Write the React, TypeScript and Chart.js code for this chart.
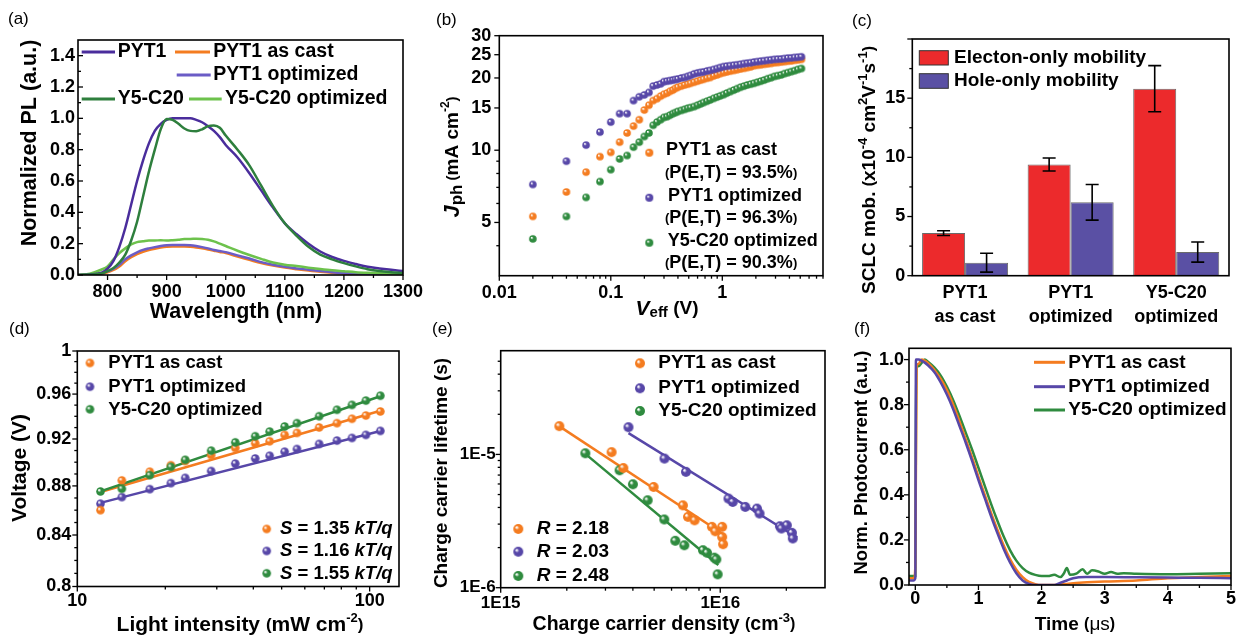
import React, { useEffect, useRef } from 'react';
import { Chart, registerables } from 'chart.js';

Chart.register(...registerables);

const FONT = '"Liberation Sans", Arial, Helvetica, sans-serif';

const ORANGE = '#F47C20';
const PURPLE = '#5747A8';
const GREEN = '#2F8B3F';
const A_PYT1_COLOR = '#4A2D9C';
const A_PYT1_OPT_COLOR = '#6B5CC6';
const A_Y5_COLOR = '#2E7F3D';
const A_Y5_OPT_COLOR = '#6DC24C';
const RED = '#EC2A2C';
const BLUE = '#5A50A4';

// ---------------- (a) PL spectra ----------------
const A_WAVELENGTH = [750, 770, 790, 800, 810, 820, 830, 840, 850, 860, 870, 880, 890, 900, 910, 920, 930, 940, 950, 960, 970, 980, 990, 1000, 1020, 1040, 1060, 1080, 1100, 1120, 1140, 1160, 1180, 1200, 1220, 1240, 1260, 1280, 1300];
const A_PYT1 = [0.0, 0.003, 0.015, 0.04, 0.09, 0.18, 0.3, 0.45, 0.6, 0.73, 0.84, 0.92, 0.965, 0.99, 1.0, 1.0, 1.0, 1.0, 0.99, 0.975, 0.95, 0.92, 0.88, 0.83, 0.75, 0.65, 0.54, 0.43, 0.33, 0.26, 0.2, 0.15, 0.115, 0.09, 0.07, 0.052, 0.042, 0.033, 0.025];
const A_PYT1_AS_CAST = [0.0, 0.002, 0.01, 0.018, 0.032, 0.055, 0.088, 0.113, 0.133, 0.148, 0.16, 0.168, 0.175, 0.18, 0.182, 0.182, 0.182, 0.18, 0.176, 0.17, 0.163, 0.155, 0.147, 0.14, 0.118, 0.097, 0.076, 0.06, 0.047, 0.037, 0.028, 0.02, 0.014, 0.01, 0.007, 0.005, 0.003, 0.002, 0.002];
const A_PYT1_OPT = [0.0, 0.003, 0.012, 0.023, 0.04, 0.065, 0.1, 0.125, 0.145, 0.16, 0.17, 0.178, 0.185, 0.19, 0.192, 0.192, 0.192, 0.19, 0.185, 0.178, 0.17, 0.16, 0.153, 0.146, 0.125, 0.105, 0.082, 0.065, 0.052, 0.042, 0.034, 0.025, 0.018, 0.013, 0.01, 0.008, 0.006, 0.005, 0.004];
const A_Y5 = [0.0, 0.003, 0.01, 0.025, 0.045, 0.08, 0.13, 0.22, 0.34, 0.5, 0.66, 0.8, 0.93, 0.995, 0.99, 0.965, 0.935, 0.92, 0.918, 0.93, 0.95, 0.955, 0.94, 0.89, 0.8, 0.7, 0.57, 0.44, 0.33, 0.25, 0.18, 0.13, 0.1, 0.076, 0.055, 0.037, 0.025, 0.018, 0.013];
const A_Y5_OPT = [0.0, 0.008, 0.035, 0.055, 0.1, 0.14, 0.17, 0.195, 0.21, 0.215, 0.22, 0.22, 0.222, 0.22, 0.222, 0.225, 0.23, 0.23, 0.232, 0.23, 0.225, 0.215, 0.2, 0.185, 0.155, 0.128, 0.103, 0.08, 0.066, 0.057, 0.047, 0.038, 0.03, 0.024, 0.018, 0.014, 0.011, 0.009, 0.008];
const A_X_TICKS = [800, 900, 1000, 1100, 1200, 1300];
const A_X_LABELS = ['800', '900', '1000', '1100', '1200', '1300'];
const A_Y_TICKS = [0, 0.2, 0.4, 0.6, 0.8, 1.0, 1.2, 1.4];
const A_Y_LABELS = ['0.0', '0.2', '0.4', '0.6', '0.8', '1.0', '1.2', '1.4'];

// ---------------- (b) Jph vs Veff ----------------
const B_VEFF = [0.02, 0.04, 0.06, 0.08, 0.10, 0.12, 0.14, 0.16, 0.18, 0.20, 0.22, 0.24, 0.26, 0.28, 0.30,
  0.32, 0.34, 0.36, 0.38, 0.40, 0.43, 0.46, 0.49, 0.52, 0.56, 0.60, 0.64, 0.68, 0.73, 0.78, 0.84, 0.90, 0.96, 1.03, 1.10,
  1.18, 1.27, 1.36, 1.46, 1.57, 1.68, 1.80, 1.93, 2.07, 2.22, 2.38, 2.55, 2.74, 2.94, 3.15, 3.38, 3.62, 3.88, 4.16, 4.46, 4.78, 5.12];
const B_PYT1_AS_CAST = [5.3, 6.7, 8.1, 9.4, 9.8, 10.8, 11.8, 12.6, 13.4, 14.7, 15.4, 16.1, 16.4, 16.8, 17.1,
  17.3, 17.6, 17.8, 18.1, 18.3, 18.5, 18.7, 18.85, 19.0, 19.2, 19.4, 19.6, 19.75, 19.95, 20.1, 20.4, 20.6, 20.85, 21.05, 21.2,
  21.35, 21.5, 21.65, 21.8, 21.95, 22.1, 22.25, 22.5, 22.6, 22.7, 22.8, 22.9, 23.0, 23.15, 23.2, 23.3, 23.4, 23.5, 23.55, 23.7, 23.8, 23.9];
const B_PYT1_OPT = [7.2, 9.0, 10.5, 11.9, 13.1, 14.2, 14.2, 16.1, 16.7, 17.0, 17.4, 18.5, 18.7, 18.9, 19.3,
  19.4, 19.5, 19.6, 19.7, 19.8, 20.0, 20.1, 20.3, 20.5, 20.8, 21.0, 21.1, 21.2, 21.4, 21.5, 21.7, 21.9, 22.1, 22.3, 22.4,
  22.5, 22.6, 22.7, 22.8, 22.95, 23.05, 23.15, 23.3, 23.4, 23.5, 23.6, 23.7, 23.8, 23.9, 23.95, 24.0, 24.1, 24.2, 24.25, 24.35, 24.4, 24.5];
const B_Y5_OPT = [4.27, 5.3, 6.36, 7.4, 8.3, 9.2, 9.5, 10.3, 10.8, 11.4, 11.8, 12.7, 13.1, 13.4, 13.7,
  13.8, 14.0, 14.2, 14.35, 14.5, 14.65, 14.8, 14.95, 15.05, 15.2, 15.4, 15.6, 15.8, 16.0, 16.2, 16.45, 16.65, 16.85, 17.05, 17.3,
  17.55, 17.8, 18.05, 18.3, 18.5, 18.7, 18.85, 19.0, 19.2, 19.4, 19.6, 19.85, 20.05, 20.3, 20.45, 20.6, 20.85, 21.05, 21.25, 21.45, 21.7, 21.9];
const B_X_TICKS = [0.01, 0.1, 1];
const B_X_LABELS = ['0.01', '0.1', '1'];
const B_Y_TICKS = [5, 10, 15, 20, 25, 30];
const B_Y_LABELS = ['5', '10', '15', '20', '25', '30'];

// ---------------- (c) SCLC mobility ----------------
const C_CATEGORIES = [['PYT1', 'as cast'], ['PYT1', 'optimized'], ['Y5-C20', 'optimized']];
const C_ELECTRON = [3.6, 9.4, 15.8];
const C_ELECTRON_ERR = [0.2, 0.55, 1.95];
const C_HOLE = [1.1, 6.2, 2.0];
const C_HOLE_ERR = [0.8, 1.5, 0.85];
const C_Y_TICKS = [0, 5, 10, 15];
const C_Y_LABELS = ['0', '5', '10', '15'];

// ---------------- (d) Voc vs light intensity ----------------
const D_INTENSITY = [12, 14.2, 17.7, 20.9, 23.4, 28.7, 34.7, 40.6, 45.5, 51.2, 56.4, 67.2, 77.3, 87, 97.1, 108.8];
const D_PYT1_AS_CAST = [0.860, 0.8846, 0.8919, 0.8974, 0.901, 0.9061, 0.9122, 0.9162, 0.918, 0.9236, 0.9253, 0.9301, 0.9339, 0.9378, 0.9407, 0.9443];
const D_PYT1_OPT = [0.8653, 0.8707, 0.8773, 0.8823, 0.8867, 0.8925, 0.8988, 0.9032, 0.9055, 0.909, 0.9113, 0.9157, 0.9186, 0.9209, 0.9236, 0.9271];
const D_Y5_OPT = [0.8754, 0.8776, 0.889, 0.896, 0.902, 0.9099, 0.9171, 0.9224, 0.9265, 0.931, 0.9339, 0.9401, 0.9458, 0.9502, 0.9541, 0.9585];
const D_FIT_INTENSITY = [12, 108.8];
const D_FIT_AS_CAST = [0.875, 0.945];
const D_FIT_PYT1_OPT = [0.866, 0.927];
const D_FIT_Y5_OPT = [0.8755, 0.958];
const D_X_TICKS = [10, 100];
const D_X_LABELS = ['10', '100'];
const D_Y_TICKS = [0.8, 0.84, 0.88, 0.92, 0.96, 1.0];
const D_Y_LABELS = ['0.8', '0.84', '0.88', '0.92', '0.96', '1'];

// ---------------- (e) lifetime vs density ----------------
const E_AS_CAST_N = [1.85e15, 3.2e15, 3.62e15, 4.97e15, 6.76e15, 7.13e15, 7.64e15, 9.16e15, 9.5e15, 1.02e16, 1.02e16, 1.03e16];
const E_AS_CAST_TAU = [1.63e-5, 1.04e-5, 7.9e-6, 5.7e-6, 4.15e-6, 3.4e-6, 3.2e-6, 2.86e-6, 2.65e-6, 2.86e-6, 2.4e-6, 2.12e-6];
const E_PYT1_OPT_N = [3.82e15, 5.57e15, 6.98e15, 1.09e16, 1.14e16, 1.3e16, 1.47e16, 1.51e16, 1.87e16, 1.9e16, 2.01e16, 2.12e16, 2.14e16];
const E_PYT1_OPT_TAU = [1.6e-5, 9.3e-6, 7.4e-6, 4.66e-6, 4.4e-6, 4.04e-6, 3.92e-6, 3.6e-6, 2.89e-6, 2.78e-6, 2.94e-6, 2.58e-6, 2.34e-6];
const E_Y5_OPT_N = [2.43e15, 3.48e15, 4.0e15, 4.67e15, 5.56e15, 6.24e15, 6.86e15, 8.34e15, 8.7e15, 9.4e15, 9.6e15, 9.73e15];
const E_Y5_OPT_TAU = [1.02e-5, 7.6e-6, 5.97e-6, 4.53e-6, 3.25e-6, 2.25e-6, 2.08e-6, 1.91e-6, 1.83e-6, 1.68e-6, 1.63e-6, 1.26e-6];
const E_FIT_AS_CAST_N = [1.845e15, 1.02e16];
const E_FIT_AS_CAST_TAU = [1.63e-5, 2.55e-6];
const E_FIT_PYT1_OPT_N = [3.82e15, 2.24e16];
const E_FIT_PYT1_OPT_TAU = [1.445e-5, 2.38e-6];
const E_FIT_Y5_OPT_N = [2.43e15, 9.8e15];
const E_FIT_Y5_OPT_TAU = [1.01e-5, 1.48e-6];
const E_X_TICKS = [1e15, 1e16];
const E_X_LABELS = ['1E15', '1E16'];
const E_Y_TICKS = [1e-6, 1e-5];
const E_Y_LABELS = ['1E-6', '1E-5'];

// ---------------- (f) TPC ----------------
const F_AS_CAST_T = [-0.1, -0.02, 0.0, 0.02, 0.05, 0.1, 0.2, 0.3, 0.4, 0.5, 0.6, 0.7, 0.8, 0.9, 1.0, 1.1, 1.2, 1.3, 1.4, 1.5, 1.6, 1.7, 1.8, 1.9, 2.0, 2.1, 2.2, 2.4, 2.6, 3.0, 3.5, 4.0, 4.5, 5.0];
const F_AS_CAST_I = [0.03, 0.03, 0.08, 0.97, 0.98, 1.0, 0.985, 0.955, 0.915, 0.865, 0.8, 0.725, 0.645, 0.565, 0.48, 0.4, 0.32, 0.245, 0.175, 0.115, 0.068, 0.035, 0.014, 0.004, 0.0, 0.0, 0.0, 0.005, 0.01, 0.015, 0.02, 0.03, 0.035, 0.04];
const F_PYT1_OPT_T = [-0.1, -0.03, 0.0, 0.01, 0.05, 0.1, 0.2, 0.3, 0.4, 0.5, 0.6, 0.7, 0.8, 0.9, 1.0, 1.1, 1.2, 1.3, 1.4, 1.5, 1.6, 1.7, 1.8, 1.9, 2.0, 2.1, 2.2, 2.3, 2.4, 2.5, 2.7, 3.0, 3.5, 4.0, 4.5, 5.0];
const F_PYT1_OPT_I = [0.02, 0.02, 0.03, 1.0, 1.0, 0.995, 0.975, 0.945, 0.9, 0.845, 0.78, 0.705, 0.63, 0.55, 0.465, 0.385, 0.305, 0.23, 0.16, 0.1, 0.052, 0.02, 0.005, 0.0, 0.0, 0.0, 0.0, 0.01, 0.02, 0.03, 0.035, 0.035, 0.034, 0.033, 0.032, 0.03];
const F_Y5_OPT_T = [-0.1, -0.02, 0.0, 0.01, 0.02, 0.05, 0.1, 0.15, 0.2, 0.3, 0.4, 0.5, 0.6, 0.7, 0.8, 0.9, 1.0, 1.1, 1.2, 1.3, 1.4, 1.5, 1.6, 1.7, 1.8, 1.9, 2.0, 2.1, 2.2, 2.3, 2.35, 2.4, 2.45, 2.55, 2.65, 2.72, 2.8, 2.9, 3.0, 3.1, 3.2, 3.3, 3.5, 4.0, 4.5, 5.0];
const F_Y5_OPT_I = [0.04, 0.04, 0.04, 0.72, 0.98, 0.97, 0.985, 1.0, 0.99, 0.965, 0.93, 0.88, 0.82, 0.75, 0.675, 0.6, 0.52, 0.44, 0.36, 0.285, 0.215, 0.155, 0.108, 0.075, 0.055, 0.045, 0.04, 0.04, 0.045, 0.035, 0.05, 0.075, 0.045, 0.05, 0.07, 0.05, 0.065, 0.06, 0.05, 0.058, 0.05, 0.052, 0.05, 0.048, 0.05, 0.052];
const F_X_TICKS = [0, 1, 2, 3, 4, 5];
const F_X_LABELS = ['0', '1', '2', '3', '4', '5'];
const F_Y_TICKS = [0, 0.2, 0.4, 0.6, 0.8, 1.0];
const F_Y_LABELS = ['0.0', '0.2', '0.4', '0.6', '0.8', '1.0'];

// ---------------- helpers ----------------
type Seg = { t: string; size?: number; bold?: boolean; italic?: boolean; dy?: number };
type TextItem = { x: number; y: number; segs: Seg[]; size: number; bold?: boolean; align?: 'left' | 'center' | 'right'; rot?: boolean };
type Mark = { kind: 'line' | 'dot' | 'box'; x: number; x2?: number; y: number; h?: number; r?: number; color: string };
type TickSpec = { axis: 'x' | 'y'; major: number[]; minor: number[]; dir: 'in' | 'out' };
type Decor = { ox: number; oy: number; ticks: TickSpec[]; texts: TextItem[]; marks: Mark[] };

const pts = (xs: number[], ys: number[]) => xs.map((x, i) => ({ x, y: ys[i] }));
const zip = (vals: number[], labels: string[]) => vals.map((v, i) => [v, labels[i]] as [number, string]);
const T = (x: number, y: number, t: string, size: number, align: 'left' | 'center' = 'left'): TextItem => ({ x, y, segs: [{ t }], size, align });

// shaded "ball" marker, like the reference's 3D spheres
const ballCache: Record<string, HTMLCanvasElement> = {};
function ball(color: string, r: number): HTMLCanvasElement {
  const key = color + r;
  if (ballCache[key]) return ballCache[key];
  const size = Math.ceil(r * 2) + 2;
  const c = document.createElement('canvas');
  c.width = size; c.height = size;
  const g = c.getContext('2d') as CanvasRenderingContext2D;
  const cx = size / 2, cy = size / 2;
  const grad = g.createRadialGradient(cx - r * 0.35, cy - r * 0.35, r * 0.1, cx, cy, r);
  grad.addColorStop(0, 'rgba(255,255,255,0.95)');
  grad.addColorStop(0.35, color);
  grad.addColorStop(1, color);
  g.fillStyle = grad;
  g.beginPath(); g.arc(cx, cy, r, 0, Math.PI * 2); g.fill();
  ballCache[key] = c;
  return c;
}

function fontOf(s: Seg, it: TextItem) {
  const size = s.size ?? it.size;
  const bold = s.bold ?? it.bold ?? true;
  return `${s.italic ? 'italic ' : ''}${bold ? 'bold ' : ''}${size}px ${FONT}`;
}

function drawText(ctx: CanvasRenderingContext2D, it: TextItem, ox: number, oy: number) {
  ctx.save();
  ctx.translate(it.x - ox, it.y - oy);
  if (it.rot) ctx.rotate(-Math.PI / 2);
  ctx.textBaseline = 'middle';
  ctx.textAlign = 'left';
  ctx.fillStyle = '#000';
  let total = 0;
  const ws = it.segs.map((s) => {
    ctx.font = fontOf(s, it);
    const w = ctx.measureText(s.t).width;
    total += w;
    return w;
  });
  const align = it.align ?? 'center';
  let x = align === 'center' ? -total / 2 : align === 'right' ? -total : 0;
  it.segs.forEach((s, i) => {
    ctx.font = fontOf(s, it);
    ctx.fillText(s.t, x, s.dy ?? 0);
    x += ws[i];
  });
  ctx.restore();
}

function decorPlugin(d: Decor) {
  return {
    id: 'decor',
    afterDatasetsDraw(chart: any) {
      const ctx = chart.ctx as CanvasRenderingContext2D;
      const ys = chart.scales.y;
      chart.data.datasets.forEach((ds: any, i: number) => {
        if (!ds.errorBars) return;
        const meta = chart.getDatasetMeta(i);
        ctx.save();
        ctx.strokeStyle = '#000';
        ctx.lineWidth = 1.6;
        meta.data.forEach((el: any, j: number) => {
          const v = ds.data[j];
          const e = ds.errorBars[j];
          const yt = ys.getPixelForValue(v + e);
          const yb = ys.getPixelForValue(v - e);
          const x = el.x;
          ctx.beginPath();
          ctx.moveTo(x, yt); ctx.lineTo(x, yb);
          ctx.moveTo(x - 6.5, yt); ctx.lineTo(x + 6.5, yt);
          ctx.moveTo(x - 6.5, yb); ctx.lineTo(x + 6.5, yb);
          ctx.stroke();
        });
        ctx.restore();
      });
    },
    afterDraw(chart: any) {
      const ctx = chart.ctx as CanvasRenderingContext2D;
      const ca = chart.chartArea;
      ctx.save();
      ctx.strokeStyle = '#000';
      ctx.lineWidth = 1.3;
      d.ticks.forEach((sp) => {
        const sc = chart.scales[sp.axis];
        const draw = (v: number, len: number) => {
          const p = sc.getPixelForValue(v);
          ctx.beginPath();
          if (sp.axis === 'x') {
            if (p < ca.left - 0.5 || p > ca.right + 0.5) return;
            ctx.moveTo(p, ca.bottom);
            ctx.lineTo(p, sp.dir === 'out' ? ca.bottom + len : ca.bottom - len);
          } else {
            if (p < ca.top - 0.5 || p > ca.bottom + 0.5) return;
            ctx.moveTo(ca.left, p);
            ctx.lineTo(sp.dir === 'out' ? ca.left - len : ca.left + len, p);
          }
          ctx.stroke();
        };
        sp.major.forEach((v) => draw(v, 5));
        sp.minor.forEach((v) => draw(v, 3));
      });
      ctx.lineWidth = 1.6;
      ctx.strokeRect(ca.left, ca.top, ca.right - ca.left, ca.bottom - ca.top);
      d.marks.forEach((m) => {
        const x = m.x - d.ox, y = m.y - d.oy;
        if (m.kind === 'line') {
          ctx.strokeStyle = m.color; ctx.lineWidth = 3;
          ctx.beginPath(); ctx.moveTo(x, y); ctx.lineTo((m.x2 as number) - d.ox, y); ctx.stroke();
        } else if (m.kind === 'dot') {
          const img = ball(m.color, m.r ?? 4);
          ctx.drawImage(img, x - img.width / 2, y - img.height / 2);
        } else {
          const w = (m.x2 as number) - m.x;
          ctx.fillStyle = m.color; ctx.fillRect(x, y, w, m.h as number);
          ctx.strokeStyle = '#333'; ctx.lineWidth = 1; ctx.strokeRect(x, y, w, m.h as number);
        }
      });
      d.texts.forEach((t) => drawText(ctx, t, d.ox, d.oy));
      ctx.restore();
    },
  };
}

type Box = { left: number; top: number; w: number; h: number; L: number; T: number; R: number; B: number; xh: number };

function axis(kind: 'x' | 'y', box: Box, type: string, min: number | undefined, max: number | undefined, ticks: [number, string][] | null, size: number, pad: number, extraTicks: any = {}) {
  const o: any = {
    type,
    grid: { display: false, drawTicks: false },
    border: { display: false },
    ticks: { font: { family: FONT, size, weight: 'bold' }, color: '#000', padding: pad, autoSkip: false, maxRotation: 0, minRotation: 0, ...extraTicks },
    afterFit: (s: any) => { if (kind === 'x') s.height = box.xh; else s.width = box.L - box.left; },
  };
  if (min !== undefined) o.min = min;
  if (max !== undefined) o.max = max;
  if (ticks) {
    o.afterBuildTicks = (s: any) => { s.ticks = ticks.map(([v]) => ({ value: v })); };
    o.ticks.callback = (v: any) => {
      const f = ticks.find(([x]) => Math.abs(x - Number(v)) <= Math.abs(x) * 1e-6 + 1e-12);
      return f ? f[1] : '';
    };
  }
  return o;
}

function options(box: Box, scales: any) {
  return {
    responsive: false,
    animation: false,
    devicePixelRatio: 1,
    events: [],
    layout: {
      autoPadding: false,
      padding: { left: 0, top: box.T - box.top, right: box.left + box.w - box.R, bottom: box.top + box.h - box.B - box.xh },
    },
    plugins: { legend: { display: false }, tooltip: { enabled: false }, title: { display: false } },
    scales,
  };
}

const lineDs = (data: any, color: string, width = 2.5) => ({ data, showLine: true, borderColor: color, borderWidth: width, pointRadius: 0, fill: false, cubicInterpolationMode: 'monotone' });
const dotDs = (data: any, color: string, r: number) => ({ data, showLine: false, backgroundColor: color, borderWidth: 0, pointRadius: r, pointStyle: ball(color, r) });
const fitDs = (data: any, color: string) => ({ data, showLine: true, borderColor: color, borderWidth: 2.5, pointRadius: 0, fill: false });

// ---------------- panels ----------------
const BOX_A: Box = { left: 0, top: 0, w: 440, h: 325, L: 78, T: 40, R: 403, B: 275, xh: 40 };
const BOX_B: Box = { left: 410, top: 0, w: 425, h: 325, L: 499.3, T: 35.7, R: 823, B: 275.7, xh: 40 };
const BOX_C: Box = { left: 830, top: 0, w: 409, h: 326, L: 912.3, T: 39, R: 1229, B: 275.7, xh: 48 };
const BOX_D: Box = { left: 0, top: 318, w: 420, h: 319, L: 77.3, T: 351, R: 399, B: 586.5, xh: 40 };
const BOX_E: Box = { left: 410, top: 318, w: 425, h: 319, L: 500.7, T: 350.7, R: 825, B: 587.7, xh: 40 };
const BOX_F: Box = { left: 830, top: 318, w: 409, h: 319, L: 909, T: 348.3, R: 1232.3, B: 585, xh: 40 };

function makeA() {
  const b = BOX_A;
  const decor: Decor = {
    ox: b.left, oy: b.top,
    ticks: [
      { axis: 'x', major: A_X_TICKS, minor: [850, 950, 1050, 1150, 1250], dir: 'out' },
      { axis: 'y', major: A_Y_TICKS, minor: [0.1, 0.3, 0.5, 0.7, 0.9, 1.1, 1.3], dir: 'in' },
    ],
    texts: [
      { x: 8, y: 19, segs: [{ t: '(a)' }], size: 17, bold: false, align: 'left' },
      { x: 30, y: 143, rot: true, segs: [{ t: 'Normalized PL (a.u.)' }], size: 21.5 },
      { x: 236, y: 312, segs: [{ t: 'Wavelength (nm)' }], size: 21.5 },
      T(117.7, 52, 'PYT1', 19.5), T(213.3, 52, 'PYT1 as cast', 19.5), T(213.3, 75, 'PYT1 optimized', 19.5),
      T(117.7, 99, 'Y5-C20', 19.5), T(225, 99, 'Y5-C20 optimized', 19.5),
    ],
    marks: [
      { kind: 'line', x: 81.7, x2: 115, y: 52, color: A_PYT1_COLOR },
      { kind: 'line', x: 175, x2: 210, y: 52, color: ORANGE },
      { kind: 'line', x: 176.7, x2: 210.7, y: 75, color: A_PYT1_OPT_COLOR },
      { kind: 'line', x: 81.7, x2: 115, y: 99, color: A_Y5_COLOR },
      { kind: 'line', x: 189, x2: 221.7, y: 99, color: A_Y5_OPT_COLOR },
    ],
  };
  return {
    type: 'scatter',
    data: {
      datasets: [
        lineDs(pts(A_WAVELENGTH, A_Y5), A_Y5_COLOR),
        lineDs(pts(A_WAVELENGTH, A_PYT1), A_PYT1_COLOR),
        lineDs(pts(A_WAVELENGTH, A_Y5_OPT), A_Y5_OPT_COLOR),
        lineDs(pts(A_WAVELENGTH, A_PYT1_OPT), A_PYT1_OPT_COLOR),
        lineDs(pts(A_WAVELENGTH, A_PYT1_AS_CAST), ORANGE),
      ],
    },
    options: options(b, {
      x: axis('x', b, 'linear', 750, 1300, zip(A_X_TICKS, A_X_LABELS), 18, 6),
      y: axis('y', b, 'linear', 0, 1.5, zip(A_Y_TICKS, A_Y_LABELS), 18, 3),
    }),
    plugins: [decorPlugin(decor)],
  };
}

function makeB() {
  const b = BOX_B;
  const decor: Decor = {
    ox: b.left, oy: b.top,
    ticks: [
      { axis: 'x', major: B_X_TICKS, minor: [0.02, 0.03, 0.04, 0.05, 0.06, 0.07, 0.08, 0.09, 0.2, 0.3, 0.4, 0.5, 0.6, 0.7, 0.8, 0.9, 2, 3, 4, 5, 6, 7, 8], dir: 'out' },
      { axis: 'y', major: B_Y_TICKS, minor: [4, 6, 7, 8, 9], dir: 'out' },
    ],
    texts: [
      { x: 436, y: 20, segs: [{ t: '(b)' }], size: 17, bold: false, align: 'left' },
      { x: 453, y: 157, rot: true, size: 19, segs: [{ t: 'J', italic: true, size: 22 }, { t: 'ph', size: 17, dy: 4 }, { t: ' (', size: 15 }, { t: 'mA cm' }, { t: '-2', size: 12, dy: -7 }, { t: ')', size: 15 }] },
      { x: 667, y: 309, size: 19, segs: [{ t: 'V', italic: true, size: 21 }, { t: 'eff', size: 15, dy: 4 }, { t: ' (V)' }] },
      T(666, 150, 'PYT1 as cast', 18),
      { x: 665, y: 173.5, size: 18, align: 'left', segs: [{ t: '(', size: 13 }, { t: 'P(E,T) = 93.5%' }, { t: ')', size: 13 }] },
      T(668, 196, 'PYT1 optimized', 18),
      { x: 665, y: 218.5, size: 18, align: 'left', segs: [{ t: '(', size: 13 }, { t: 'P(E,T) = 96.3%' }, { t: ')', size: 13 }] },
      T(667.7, 240.7, 'Y5-C20 optimized', 18),
      { x: 665, y: 263.5, size: 18, align: 'left', segs: [{ t: '(', size: 13 }, { t: 'P(E,T) = 90.3%' }, { t: ')', size: 13 }] },
    ],
    marks: [
      { kind: 'dot', x: 649.3, y: 152.7, r: 4, color: ORANGE },
      { kind: 'dot', x: 649.3, y: 197.7, r: 4, color: PURPLE },
      { kind: 'dot', x: 649.3, y: 242.7, r: 4, color: GREEN },
    ],
  };
  return {
    type: 'scatter',
    data: {
      datasets: [
        dotDs(pts(B_VEFF, B_PYT1_OPT), PURPLE, 3.8),
        dotDs(pts(B_VEFF, B_PYT1_AS_CAST), ORANGE, 3.8),
        dotDs(pts(B_VEFF, B_Y5_OPT), GREEN, 3.8),
      ],
    },
    options: options(b, {
      x: axis('x', b, 'logarithmic', 0.01, 8, zip(B_X_TICKS, B_X_LABELS), 18, 7),
      y: axis('y', b, 'logarithmic', 3, 30, zip(B_Y_TICKS, B_Y_LABELS), 18, 8),
    }),
    plugins: [decorPlugin(decor)],
  };
}

function makeC() {
  const b = BOX_C;
  const decor: Decor = {
    ox: b.left, oy: b.top,
    ticks: [{ axis: 'y', major: [0, 5, 10, 15, 20], minor: [2.5, 7.5, 12.5, 17.5], dir: 'out' }],
    texts: [
      { x: 852, y: 21, segs: [{ t: '(c)' }], size: 17, bold: false, align: 'left' },
      {
        x: 870, y: 170, rot: true, size: 19,
        segs: [{ t: 'SCLC mob. ' }, { t: '(', size: 16 }, { t: 'x10' }, { t: '-4', size: 13, dy: -7 }, { t: ' cm' }, { t: '2', size: 13, dy: -7 }, { t: 'V' }, { t: '-1', size: 13, dy: -7 }, { t: 's' }, { t: '-1', size: 13, dy: -7 }, { t: ')', size: 16 }],
      },
      T(954, 58, 'Electon-only mobility', 19),
      T(954, 81, 'Hole-only mobility', 19),
    ],
    marks: [
      { kind: 'box', x: 919.3, x2: 948.3, y: 50.7, h: 14.3, color: RED },
      { kind: 'box', x: 919.3, x2: 948.3, y: 73.7, h: 14.6, color: BLUE },
    ],
  };
  return {
    type: 'bar',
    data: {
      labels: C_CATEGORIES,
      datasets: [
        { data: C_ELECTRON, errorBars: C_ELECTRON_ERR, backgroundColor: RED, borderColor: '#6a6a6a', borderWidth: 1, categoryPercentage: 0.815, barPercentage: 1 },
        { data: C_HOLE, errorBars: C_HOLE_ERR, backgroundColor: BLUE, borderColor: '#6a6a6a', borderWidth: 1, categoryPercentage: 0.815, barPercentage: 1 },
      ],
    },
    options: options(b, {
      x: axis('x', b, 'category', undefined, undefined, null, 18, 6, { font: { family: FONT, size: 18, weight: 'bold', lineHeight: 1.3 } }),
      y: axis('y', b, 'linear', 0, 20, zip(C_Y_TICKS, C_Y_LABELS), 18, 7),
    }),
    plugins: [decorPlugin(decor)],
  };
}

function makeD() {
  const b = BOX_D;
  const decor: Decor = {
    ox: b.left, oy: b.top,
    ticks: [
      { axis: 'x', major: D_X_TICKS, minor: [20, 30, 40, 50, 60, 70, 80, 90], dir: 'out' },
      { axis: 'y', major: D_Y_TICKS, minor: [0.81, 0.82, 0.83, 0.85, 0.86, 0.87, 0.89, 0.9, 0.91, 0.93, 0.94, 0.95, 0.97, 0.98, 0.99], dir: 'out' },
    ],
    texts: [
      { x: 9, y: 329, segs: [{ t: '(d)' }], size: 17, bold: false, align: 'left' },
      { x: 20, y: 468, rot: true, segs: [{ t: 'Voltage (V)' }], size: 21 },
      { x: 240, y: 625, size: 21, segs: [{ t: 'Light intensity ' }, { t: '(', size: 17 }, { t: 'mW cm' }, { t: '-2', size: 13, dy: -7 }, { t: ')', size: 17 }] },
      T(108.3, 363, 'PYT1 as cast', 18.5),
      T(108.3, 386.5, 'PYT1 optimized', 18.5),
      T(108.3, 409.5, 'Y5-C20 optimized', 18.5),
      { x: 280, y: 529, size: 18.5, align: 'left', segs: [{ t: 'S', italic: true }, { t: ' = 1.35 ' }, { t: 'kT/q', italic: true }] },
      { x: 280, y: 551, size: 18.5, align: 'left', segs: [{ t: 'S', italic: true }, { t: ' = 1.16 ' }, { t: 'kT/q', italic: true }] },
      { x: 280, y: 573.5, size: 18.5, align: 'left', segs: [{ t: 'S', italic: true }, { t: ' = 1.55 ' }, { t: 'kT/q', italic: true }] },
    ],
    marks: [
      { kind: 'dot', x: 90, y: 363, r: 4.3, color: ORANGE },
      { kind: 'dot', x: 90, y: 386.7, r: 4.3, color: PURPLE },
      { kind: 'dot', x: 90, y: 409.3, r: 4.3, color: GREEN },
      { kind: 'dot', x: 266.7, y: 529, r: 4.3, color: ORANGE },
      { kind: 'dot', x: 266.7, y: 551, r: 4.3, color: PURPLE },
      { kind: 'dot', x: 266.7, y: 573.3, r: 4.3, color: GREEN },
    ],
  };
  return {
    type: 'scatter',
    data: {
      datasets: [
        dotDs(pts(D_INTENSITY, D_Y5_OPT), GREEN, 4.3),
        dotDs(pts(D_INTENSITY, D_PYT1_AS_CAST), ORANGE, 4.3),
        dotDs(pts(D_INTENSITY, D_PYT1_OPT), PURPLE, 4.3),
        fitDs(pts(D_FIT_INTENSITY, D_FIT_Y5_OPT), GREEN),
        fitDs(pts(D_FIT_INTENSITY, D_FIT_AS_CAST), ORANGE),
        fitDs(pts(D_FIT_INTENSITY, D_FIT_PYT1_OPT), PURPLE),
      ],
    },
    options: options(b, {
      x: axis('x', b, 'logarithmic', 10, 126, zip(D_X_TICKS, D_X_LABELS), 18, 4),
      y: axis('y', b, 'logarithmic', 0.8, 1.0, zip(D_Y_TICKS, D_Y_LABELS), 18, 6),
    }),
    plugins: [decorPlugin(decor)],
  };
}

function makeE() {
  const b = BOX_E;
  const decor: Decor = {
    ox: b.left, oy: b.top,
    ticks: [
      { axis: 'x', major: E_X_TICKS, minor: [2e15, 3e15, 4e15, 5e15, 6e15, 7e15, 8e15, 9e15, 2e16], dir: 'out' },
      { axis: 'y', major: E_Y_TICKS, minor: [2e-6, 3e-6, 4e-6, 5e-6, 6e-6, 7e-6, 8e-6, 9e-6, 2e-5, 3e-5, 4e-5, 5e-5], dir: 'out' },
    ],
    texts: [
      { x: 432, y: 329, segs: [{ t: '(e)' }], size: 17, bold: false, align: 'left' },
      { x: 442, y: 473, rot: true, segs: [{ t: 'Charge carrier lifetime (s)' }], size: 19 },
      { x: 664, y: 625, size: 19.5, segs: [{ t: 'Charge carrier density ' }, { t: '(', size: 16 }, { t: 'cm' }, { t: '-3', size: 13, dy: -7 }, { t: ')', size: 16 }] },
      T(658.3, 363, 'PYT1 as cast', 19),
      T(658.3, 388, 'PYT1 optimized', 19),
      T(658.3, 411, 'Y5-C20 optimized', 19),
      { x: 536.7, y: 529, size: 19, align: 'left', segs: [{ t: 'R', italic: true }, { t: ' = 2.18' }] },
      { x: 536.7, y: 551.7, size: 19, align: 'left', segs: [{ t: 'R', italic: true }, { t: ' = 2.03' }] },
      { x: 536.7, y: 576, size: 19, align: 'left', segs: [{ t: 'R', italic: true }, { t: ' = 2.48' }] },
    ],
    marks: [
      { kind: 'dot', x: 640, y: 363.3, r: 5, color: ORANGE },
      { kind: 'dot', x: 640, y: 388.3, r: 5, color: PURPLE },
      { kind: 'dot', x: 640, y: 411, r: 5, color: GREEN },
      { kind: 'dot', x: 518.3, y: 529, r: 5, color: ORANGE },
      { kind: 'dot', x: 518.3, y: 551.7, r: 5, color: PURPLE },
      { kind: 'dot', x: 518.3, y: 576, r: 5, color: GREEN },
    ],
  };
  return {
    type: 'scatter',
    data: {
      datasets: [
        dotDs(pts(E_AS_CAST_N, E_AS_CAST_TAU), ORANGE, 5),
        dotDs(pts(E_PYT1_OPT_N, E_PYT1_OPT_TAU), PURPLE, 5),
        dotDs(pts(E_Y5_OPT_N, E_Y5_OPT_TAU), GREEN, 5),
        fitDs(pts(E_FIT_AS_CAST_N, E_FIT_AS_CAST_TAU), ORANGE),
        fitDs(pts(E_FIT_PYT1_OPT_N, E_FIT_PYT1_OPT_TAU), PURPLE),
        fitDs(pts(E_FIT_Y5_OPT_N, E_FIT_Y5_OPT_TAU), GREEN),
      ],
    },
    options: options(b, {
      x: axis('x', b, 'logarithmic', 1e15, 3e16, zip(E_X_TICKS, E_X_LABELS), 17, 5),
      y: axis('y', b, 'logarithmic', 1e-6, 6e-5, zip(E_Y_TICKS, E_Y_LABELS), 17, 5),
    }),
    plugins: [decorPlugin(decor)],
  };
}

function makeF() {
  const b = BOX_F;
  const decor: Decor = {
    ox: b.left, oy: b.top,
    ticks: [
      { axis: 'x', major: F_X_TICKS, minor: [0.5, 1.5, 2.5, 3.5, 4.5], dir: 'out' },
      { axis: 'y', major: F_Y_TICKS, minor: [0.1, 0.3, 0.5, 0.7, 0.9], dir: 'out' },
    ],
    texts: [
      { x: 854, y: 329, segs: [{ t: '(f)' }], size: 17, bold: false, align: 'left' },
      { x: 862, y: 462.5, rot: true, segs: [{ t: 'Norm. Photocurrent (a.u.)' }], size: 18.5 },
      { x: 1075, y: 625, size: 19, segs: [{ t: 'Time ' }, { t: '(', size: 16 }, { t: 'μs', bold: false }, { t: ')', size: 16 }] },
      T(1068.3, 362.3, 'PYT1 as cast', 19),
      T(1068.3, 386.7, 'PYT1 optimized', 19),
      T(1068.3, 410, 'Y5-C20 optimized', 19),
    ],
    marks: [
      { kind: 'line', x: 1034, x2: 1065, y: 362.3, color: ORANGE },
      { kind: 'line', x: 1034, x2: 1065, y: 386.7, color: PURPLE },
      { kind: 'line', x: 1034, x2: 1065, y: 410, color: GREEN },
    ],
  };
  return {
    type: 'scatter',
    data: {
      datasets: [
        lineDs(pts(F_PYT1_OPT_T, F_PYT1_OPT_I), PURPLE),
        lineDs(pts(F_AS_CAST_T, F_AS_CAST_I), ORANGE),
        lineDs(pts(F_Y5_OPT_T, F_Y5_OPT_I), GREEN),
      ],
    },
    options: options(b, {
      x: axis('x', b, 'linear', -0.1, 5, zip(F_X_TICKS, F_X_LABELS), 18, 3),
      y: axis('y', b, 'linear', 0, 1.05, zip(F_Y_TICKS, F_Y_LABELS), 18, 5),
    }),
    plugins: [decorPlugin(decor)],
  };
}

function PanelCanvas({ box, make }: { box: Box; make: () => any }) {
  const ref = useRef<HTMLCanvasElement | null>(null);
  useEffect(() => {
    if (!ref.current) return;
    const chart = new Chart(ref.current, make());
    return () => chart.destroy();
  }, [make]);
  return (
    <canvas
      ref={ref}
      width={box.w}
      height={box.h}
      style={{ position: 'absolute', left: box.left, top: box.top, width: box.w, height: box.h }}
    />
  );
}

export default function App() {
  return (
    <div style={{ position: 'absolute', left: 0, top: 0, width: 1239, height: 637, background: '#fff', overflow: 'hidden' }}>
      <PanelCanvas box={BOX_A} make={makeA} />
      <PanelCanvas box={BOX_B} make={makeB} />
      <PanelCanvas box={BOX_C} make={makeC} />
      <PanelCanvas box={BOX_D} make={makeD} />
      <PanelCanvas box={BOX_E} make={makeE} />
      <PanelCanvas box={BOX_F} make={makeF} />
    </div>
  );
}
